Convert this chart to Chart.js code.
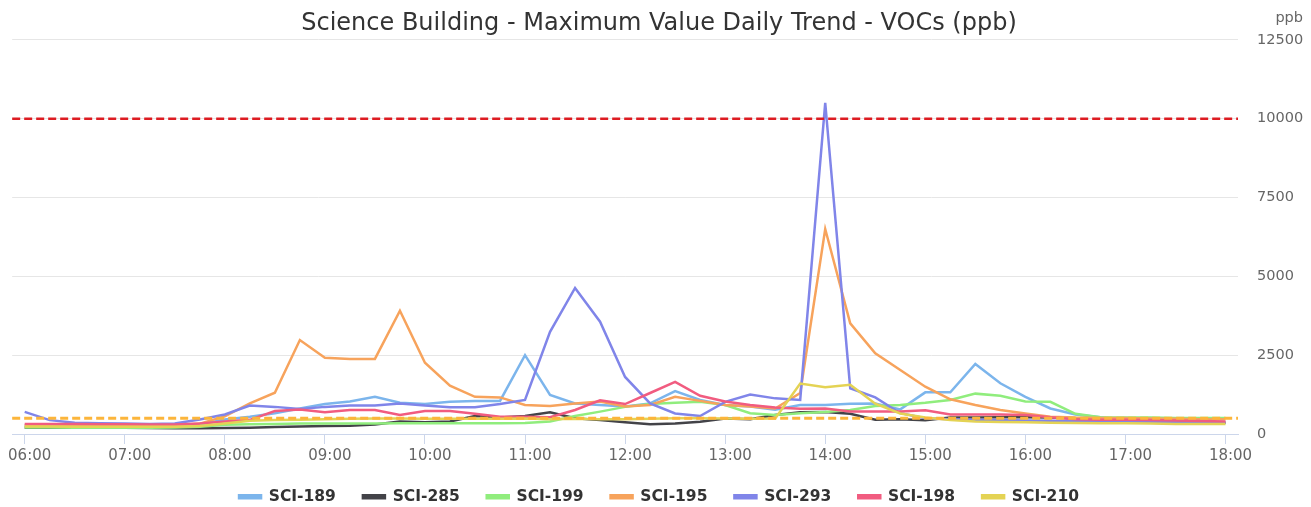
<!DOCTYPE html>
<html>
<head>
<meta charset="utf-8">
<title>Science Building - VOCs</title>
<script src="https://cdn.jsdelivr.net/npm/chart.js@4.4.1/dist/chart.umd.min.js"></script>
<style>
	html, body { margin: 0; padding: 0; background: #fff; }
	#wrap { width: 1311px; height: 507px; }
</style>
</head>
<body>
<div id="wrap"><canvas id="chart"></canvas></div>
<script>
// 15 minute readings, 06:00 - 18:00
const times = [
	'06:00', '06:15', '06:30', '06:45', '07:00', '07:15', '07:30', '07:45',
	'08:00', '08:15', '08:30', '08:45', '09:00', '09:15', '09:30', '09:45',
	'10:00', '10:15', '10:30', '10:45', '11:00', '11:15', '11:30', '11:45',
	'12:00', '12:15', '12:30', '12:45', '13:00', '13:15', '13:30', '13:45',
	'14:00', '14:15', '14:30', '14:45', '15:00', '15:15', '15:30', '15:45',
	'16:00', '16:15', '16:30', '16:45', '17:00', '17:15', '17:30', '17:45',
	'18:00'
];

const sensors = ['SCI-189', 'SCI-285', 'SCI-199', 'SCI-195', 'SCI-293', 'SCI-198', 'SCI-210'];

const sci189 = [260, 250, 240, 240, 240, 240, 250, 300, 460, 550, 660, 810, 950, 1030, 1180, 990,
	950, 1020, 1050, 1050, 2500, 1240, 970, 920, 870, 970, 1360, 1080, 920, 870, 770, 920,
	920, 960, 970, 780, 1320, 1320, 2220, 1610, 1180, 810, 620, 530, 460, 390, 340, 360, 360];
const sci285 = [200, 200, 200, 195, 195, 190, 185, 180, 190, 200, 220, 240, 250, 260, 300, 400,
	370, 400, 570, 520, 570, 690, 500, 440, 370, 310, 330, 390, 490, 470, 600, 690,
	700, 640, 450, 470, 440, 520, 520, 530, 530, 520, 500, 470, 450, 420, 390, 370, 360];
const sci199 = [210, 210, 200, 200, 200, 200, 210, 230, 290, 310, 320, 330, 330, 330, 330, 340,
	340, 340, 340, 340, 350, 400, 570, 710, 860, 950, 990, 1020, 920, 660, 600, 660,
	700, 760, 890, 920, 990, 1080, 1280, 1210, 1030, 1020, 640, 530, 520, 520, 510, 510, 510];
const sci195 = [280, 270, 270, 270, 270, 270, 270, 330, 560, 970, 1310, 2980, 2420, 2380, 2380, 3910,
	2260, 1530, 1180, 1160, 920, 890, 970, 1030, 870, 920, 1180, 1050, 920, 870, 810, 1300,
	6500, 3510, 2560, 2030, 1500, 1100, 920, 760, 650, 550, 520, 510, 510, 490, 480, 470, 470];
const sci293 = [700, 440, 360, 340, 330, 320, 330, 460, 620, 900, 860, 790, 860, 900, 900, 970,
	900, 850, 850, 950, 1080, 3240, 4630, 3560, 1810, 970, 650, 570, 1020, 1250, 1130, 1080,
	10500, 1450, 1160, 660, 500, 470, 450, 440, 430, 420, 410, 400, 400, 390, 370, 360, 350];
const sci198 = [320, 320, 320, 310, 310, 300, 300, 330, 400, 450, 730, 780, 690, 760, 760, 600,
	730, 730, 640, 550, 550, 530, 760, 1070, 950, 1300, 1650, 1210, 1030, 920, 840, 800,
	810, 710, 710, 710, 750, 620, 620, 620, 600, 530, 470, 450, 450, 440, 430, 410, 400];
const sci210 = [240, 240, 230, 230, 230, 230, 230, 250, 330, 420, 440, 450, 470, 480, 490, 490,
	480, 480, 480, 480, 490, 470, 480, 470, 470, 480, 500, 500, 490, 480, 490, 1600,
	1480, 1560, 960, 650, 520, 440, 400, 380, 370, 360, 350, 340, 340, 330, 320, 320, 320];

const series = [sci189, sci285, sci199, sci195, sci293, sci198, sci210];

// alarm levels drawn as dashed lines
const limits = [10000, 500];

const yTicks = [0, 2500, 5000, 7500, 10000, 12500];

const colors = ['#7cb5ec', '#434348', '#90ed7d', '#f7a35c', '#8085e9', '#f15c80', '#e4d354'];
const limitColors = ['#dd1c22', '#fcb53b'];

Chart.defaults.font.family = '"DejaVu Sans", sans-serif';

const limitLines = {
	id: 'limitLines',
	afterDatasetsDraw(chart) {
		const { ctx, chartArea, scales } = chart;
		limits.forEach((v, i) => {
			const y = scales.y.getPixelForValue(v);
			ctx.save();
			ctx.strokeStyle = limitColors[i];
			ctx.lineWidth = i === 0 ? 2.5 : 3;
			ctx.setLineDash([8, 4]);
			ctx.beginPath();
			ctx.moveTo(chartArea.left, y);
			ctx.lineTo(chartArea.right, y);
			ctx.stroke();
			ctx.restore();
		});
	}
};

const unitLabel = {
	id: 'unitLabel',
	afterDraw(chart) {
		const { ctx, scales } = chart;
		ctx.save();
		ctx.font = '14.5px "DejaVu Sans"';
		ctx.fillStyle = '#666666';
		ctx.textAlign = 'right';
		ctx.textBaseline = 'middle';
		ctx.fillText('ppb', scales.y.right - 8, 18);
		ctx.restore();
	}
};

// keep the wide item spacing without the tall legend box
const legendFit = {
	id: 'legendFit',
	beforeInit(chart) {
		const fit = chart.legend.fit;
		chart.legend.fit = function () {
			fit.call(this);
			this.height = 45;
		};
	}
};

const ctx = document.getElementById('chart').getContext('2d');

new Chart(ctx, {
	type: 'line',
	data: {
		labels: times,
		datasets: sensors.map((name, k) => ({
			label: name,
			data: series[k],
			borderColor: colors[k],
			backgroundColor: colors[k],
			borderWidth: 2.5,
			pointRadius: 0,
			tension: 0,
			order: sensors.length - 1 - k
		}))
	},
	options: {
		responsive: true,
		maintainAspectRatio: false,
		animation: false,
		devicePixelRatio: 1,
		layout: {
			padding: { left: 7, right: 0, top: 0, bottom: 0 }
		},
		scales: {
			x: {
				offset: true,
				afterFit: (axis) => {
					axis.height = 28;
				},
				grid: {
					drawOnChartArea: false,
					tickLength: 10,
					color: (c) => (c.index % 4 === 0 ? '#ccd6eb' : 'rgba(0,0,0,0)')
				},
				border: { color: '#ccd6eb' },
				ticks: {
					autoSkip: false,
					maxRotation: 0,
					padding: 3,
					labelOffset: 5,
					color: '#666666',
					font: { size: 15 },
					callback: (v, i) => (i % 4 === 0 ? times[i] : '')
				}
			},
			y: {
				position: 'right',
				min: 0,
				max: 12500,
				afterBuildTicks: (axis) => {
					axis.ticks = yTicks.map((v) => ({ value: v }));
				},
				afterFit: (axis) => {
					axis.width = 73;
				},
				grid: { color: '#e6e6e6', drawTicks: false },
				border: { display: false },
				ticks: {
					padding: 19,
					color: '#666666',
					font: { size: 14.5 },
					callback: (v) => String(v)
				}
			}
		},
		plugins: {
			title: {
				display: true,
				text: 'Science Building - Maximum Value Daily Trend - VOCs (ppb)',
				color: '#333333',
				font: { size: 24, weight: 'normal' },
				padding: { top: 9, bottom: 2 }
			},
			legend: {
				position: 'bottom',
				labels: {
					boxWidth: 22,
					boxHeight: 3,
					padding: 27,
					color: '#333333',
					font: { size: 15.5, weight: 'bold' },
					sort: (a, b) => a.datasetIndex - b.datasetIndex
				}
			},
			tooltip: { enabled: false }
		}
	},
	plugins: [limitLines, unitLabel, legendFit]
});
</script>
</body>
</html>
